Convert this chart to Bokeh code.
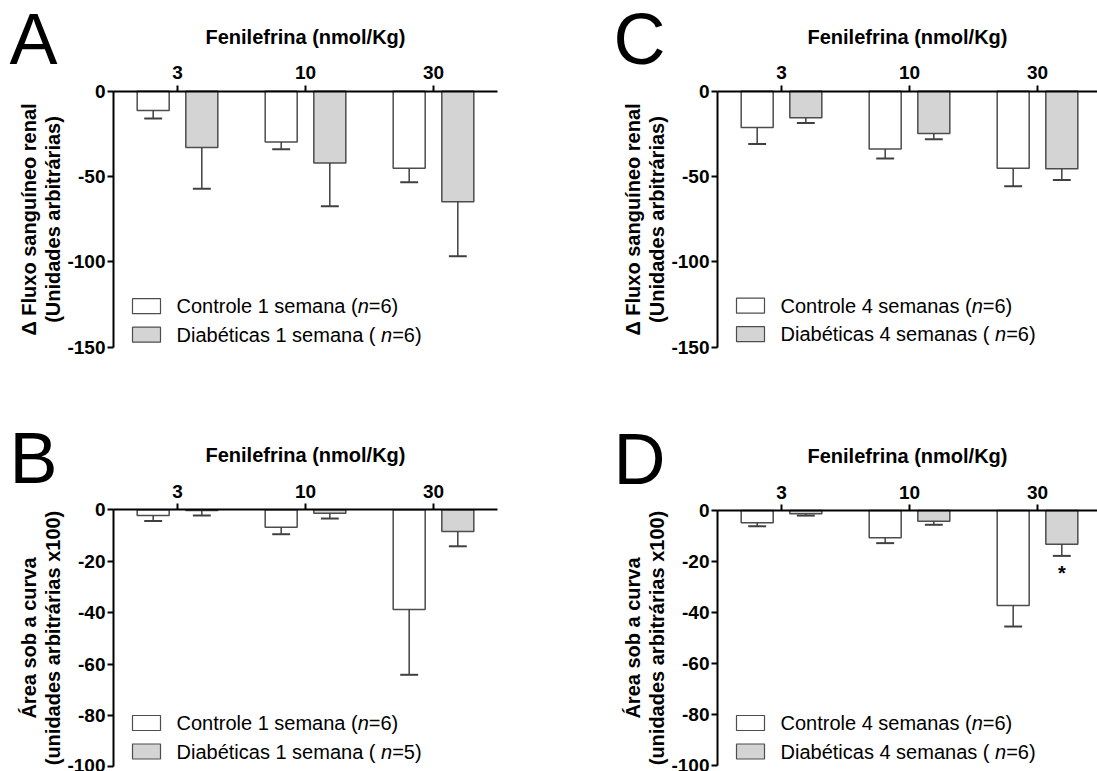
import numpy as np
from bokeh.plotting import figure
from bokeh.models import FixedTicker, Label, Range1d, LinearAxis
from bokeh.layouts import row, column
from bokeh.embed import file_html
from bokeh.resources import INLINE

# ---------------- data ----------------
doses = ["3", "10", "30"]

# A: Delta renal blood flow, 1 week
ctrl_1sem_fluxo = [-11.3, -29.7, -45.1]
ctrl_1sem_fluxo_err = [4.7, 4.3, 8.2]
diab_1sem_fluxo = [-33.0, -42.0, -64.8]
diab_1sem_fluxo_err = [24.2, 25.4, 31.9]

# C: Delta renal blood flow, 4 weeks
ctrl_4sem_fluxo = [-21.3, -33.8, -45.1]
ctrl_4sem_fluxo_err = [9.7, 5.6, 10.6]
diab_4sem_fluxo = [-15.6, -24.8, -45.5]
diab_4sem_fluxo_err = [3.0, 3.3, 6.6]

# B: area under the curve, 1 week
ctrl_1sem_area = [-2.2, -6.8, -38.8]
ctrl_1sem_area_err = [2.2, 2.7, 25.4]
diab_1sem_area = [-0.3, -1.3, -8.4]
diab_1sem_area_err = [1.9, 2.1, 5.8]

# D: area under the curve, 4 weeks
ctrl_4sem_area = [-4.8, -10.7, -37.3]
ctrl_4sem_area_err = [1.4, 2.1, 8.2]
diab_4sem_area = [-1.3, -4.2, -13.2]
diab_4sem_area_err = [0.7, 1.4, 4.6]

n_ctrl_1sem, n_diab_1sem_fluxo, n_diab_1sem_area = 6, 6, 5
n_ctrl_4sem, n_diab_4sem = 6, 6

yticks_fluxo = [-150, -100, -50, 0]
yticks_area = [-100, -80, -60, -40, -20, 0]

# ---------------- style ----------------
FONT = "Liberation Sans"
BAR_OFF = 0.19
BAR_W = 0.25
CAP_HALF = 0.07
PX_PER_CAT = 128
EDGE = "#4d4d4d"
ERR = "#404040"
GRAY = "#d4d4d4"

# Arial / Liberation Sans advance widths (per 1000 em)
ADV = {' ': 278, '(': 333, ')': 333, '=': 584, '1': 556, '4': 556, '5': 556,
       '6': 556, 'C': 722, 'D': 722, 'a': 556, 'b': 556, 'c': 500, 'e': 556,
       'é': 556, 'i': 222, 'l': 222, 'm': 833, 'n': 556, 'o': 556, 'r': 333,
       's': 500, 't': 278}


def text_w(s, size):
    return sum(ADV.get(ch, 556) for ch in s) * size / 1000.0


def panel(letter, ylabel, yticks, ctrl, ctrl_err, diab, diab_err,
          leg_ctrl, leg_diab, W, H, ox, oy, axis_px, leg_top, star=False):
    """ox, oy: pixel position (inside this figure) of the axes' corner;
    axis_px: pixel length of the value axis."""
    ymin = min(yticks)
    sy = axis_px / (0 - ymin)
    x0 = -0.5 - ox / PX_PER_CAT
    x1 = -0.5 + (W - ox) / PX_PER_CAT
    y1 = oy / sy
    y0 = -(H - oy) / sy

    p = figure(width=W, height=H, x_range=Range1d(x0, x1), y_range=Range1d(y0, y1),
               x_axis_location=None, y_axis_location=None,
               output_backend="svg", toolbar_location=None,
               min_border_left=0, min_border_right=0,
               min_border_top=0, min_border_bottom=0)
    p.xgrid.visible = False
    p.ygrid.visible = False
    p.outline_line_color = None
    p.background_fill_color = "white"
    p.border_fill_color = "white"

    x = np.arange(len(doses))
    xc = x - BAR_OFF
    xd = x + BAR_OFF
    p.vbar(x=xc, top=0, bottom=ctrl, width=BAR_W, fill_color="white",
           line_color=EDGE, line_width=1.5)
    p.vbar(x=xd, top=0, bottom=diab, width=BAR_W, fill_color=GRAY,
           line_color=EDGE, line_width=1.5)

    for xs, vals, errs in ((xc, ctrl, ctrl_err), (xd, diab, diab_err)):
        v = np.array(vals)
        lo = v - np.array(errs)
        p.segment(x0=xs, y0=v, x1=xs, y1=lo, line_color=ERR, line_width=1.5)
        p.segment(x0=xs - CAP_HALF, y0=lo, x1=xs + CAP_HALF, y1=lo,
                  line_color=ERR, line_width=2)

    if star:
        lo = np.array(diab) - np.array(diab_err)
        p.add_layout(Label(x=xd[2], y=lo[2] - 6 / sy, text="*",
                           text_font=FONT, text_font_size="20px",
                           text_font_style="bold", text_align="center",
                           text_baseline="top", text_color="black"))

    xa = LinearAxis(fixed_location=0, bounds=(-0.5, 2.5))
    ya = LinearAxis(fixed_location=-0.5, bounds=(ymin, 0))
    p.add_layout(xa, "above")
    p.add_layout(ya, "left")
    xa.ticker = FixedTicker(ticks=[int(i) for i in x])
    xa.major_label_overrides = {int(i): d for i, d in enumerate(doses)}
    xa.axis_label = "Fenilefrina (nmol/Kg)"
    ya.ticker = FixedTicker(ticks=yticks)
    ya.major_label_overrides = {int(t): str(int(t)) for t in yticks}
    ya.axis_label = ylabel
    for ax in (xa, ya):
        ax.axis_line_width = 2
        ax.axis_line_color = "black"
        ax.major_tick_line_width = 2
        ax.major_tick_line_color = "black"
        ax.major_tick_out = 6
        ax.major_tick_in = 0
        ax.minor_tick_out = 0
        ax.minor_tick_in = 0
        ax.major_label_text_font = FONT
        ax.major_label_text_font_style = "bold"
        ax.major_label_text_font_size = "19px"
        ax.major_label_text_color = "black"
        ax.axis_label_text_font = FONT
        ax.axis_label_text_font_style = "bold"
        ax.axis_label_text_font_size = "20px"
        ax.axis_label_text_color = "black"
    xa.major_label_standoff = 6
    xa.axis_label_standoff = 16
    ya.major_label_standoff = 2
    ya.axis_label_standoff = 0
    ya.axis_label_text_line_height = 1.1

    def dx(px):
        return -0.5 + px / PX_PER_CAT

    def dy(px):
        return -px / sy

    # legend (drawn by hand for the italic n)
    for k, (pieces, fill) in enumerate(((leg_ctrl, "white"), (leg_diab, GRAY))):
        t0 = leg_top + k * 28.5
        p.quad(left=dx(19), right=dx(47), top=dy(t0), bottom=dy(t0 + 15),
               fill_color=fill, line_color=EDGE, line_width=1.2)
        ymid = dy(t0 + 7.5)
        xpos = 63
        styles = ("normal", "italic", "normal")
        for piece, st in zip(pieces, styles):
            p.add_layout(Label(x=dx(xpos), y=ymid, text=piece, text_font=FONT,
                               text_font_size="20px", text_font_style=st,
                               text_baseline="middle", text_align="left",
                               text_color="black"))
            xpos += text_w(piece, 20)

    # panel letter
    p.add_layout(Label(x=dx(-104), y=dy(-52), text=letter, text_font=FONT,
                       text_font_size="72px", text_baseline="alphabetic",
                       text_align="left", text_color="black"))
    return p


pA = panel("A", "Δ Fluxo sanguíneo renal\n(Unidades arbitrárias)", yticks_fluxo,
           ctrl_1sem_fluxo, ctrl_1sem_fluxo_err, diab_1sem_fluxo, diab_1sem_fluxo_err,
           ("Controle 1 semana (", "n", "=%d)" % n_ctrl_1sem),
           ("Diabéticas 1 semana ( ", "n", "=%d)" % n_diab_1sem_fluxo),
           W=548, H=390, ox=113, oy=90.7, axis_px=256, leg_top=207.5)
pC = panel("C", "Δ Fluxo sanguíneo renal\n(Unidades arbitrárias)", yticks_fluxo,
           ctrl_4sem_fluxo, ctrl_4sem_fluxo_err, diab_4sem_fluxo, diab_4sem_fluxo_err,
           ("Controle 4 semanas (", "n", "=%d)" % n_ctrl_4sem),
           ("Diabéticas 4 semanas ( ", "n", "=%d)" % n_diab_4sem),
           W=549, H=390, ox=169, oy=90.7, axis_px=256, leg_top=207)
pB = panel("B", "Área sob a curva\n(unidades arbitrárias x100)", yticks_area,
           ctrl_1sem_area, ctrl_1sem_area_err, diab_1sem_area, diab_1sem_area_err,
           ("Controle 1 semana (", "n", "=%d)" % n_ctrl_1sem),
           ("Diabéticas 1 semana ( ", "n", "=%d)" % n_diab_1sem_area),
           W=548, H=381, ox=113, oy=119.3, axis_px=257, leg_top=205.7)
pD = panel("D", "Área sob a curva\n(unidades arbitrárias x100)", yticks_area,
           ctrl_4sem_area, ctrl_4sem_area_err, diab_4sem_area, diab_4sem_area_err,
           ("Controle 4 semanas (", "n", "=%d)" % n_ctrl_4sem),
           ("Diabéticas 4 semanas ( ", "n", "=%d)" % n_diab_4sem),
           W=549, H=381, ox=169, oy=120, axis_px=255, leg_top=205,
           star=True)

layout = column(row(pA, pC), row(pB, pD))
open("out.html", "w").write(file_html(layout, INLINE))
